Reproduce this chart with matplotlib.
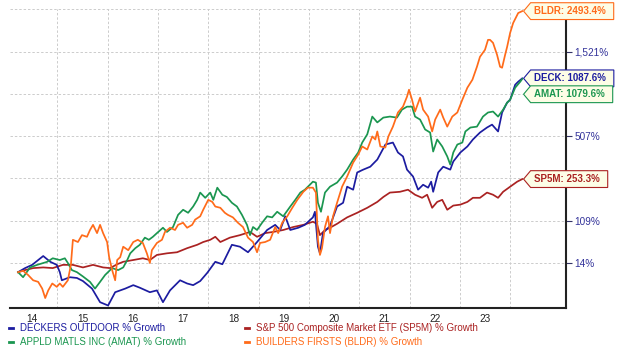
import numpy as np
import matplotlib.pyplot as plt
from matplotlib.path import Path
from matplotlib.lines import Line2D
from matplotlib.ticker import FixedLocator, FixedFormatter, NullFormatter

plt.rcParams['font.family'] = ['Liberation Sans', 'DejaVu Sans']

# ---- data: (decimal year, % growth) ----
deck = [(2014.22, 0), (2014.36, 6), (2014.50, 11), (2014.72, 26), (2014.86, 16), (2014.99, 11),
        (2015.05, 0), (2015.09, -11), (2015.25, -7), (2015.39, -8), (2015.51, -12), (2015.69, -21),
        (2015.85, -35), (2016.01, -38), (2016.15, -25), (2016.35, -21), (2016.51, -17), (2016.64, -20),
        (2016.84, -25), (2016.98, -23), (2017.10, -35), (2017.24, -23), (2017.44, -11), (2017.58, -15),
        (2017.70, -17), (2017.84, -12), (2017.98, -1), (2018.14, 16), (2018.28, 12), (2018.47, 48),
        (2018.63, 44), (2018.79, 33), (2018.97, 54), (2019.17, 83), (2019.33, 97), (2019.43, 83),
        (2019.53, 121), (2019.63, 83), (2019.79, 89), (2019.92, 97), (2020.08, 118), (2020.12, 134),
        (2020.18, 44), (2020.22, 31), (2020.28, 75), (2020.42, 94), (2020.56, 150), (2020.68, 162),
        (2020.76, 221), (2020.88, 209), (2020.96, 284), (2021.08, 298), (2021.22, 313), (2021.36, 352),
        (2021.52, 446), (2021.67, 460), (2021.77, 394), (2021.87, 370), (2021.95, 298), (2022.07, 265),
        (2022.17, 209), (2022.27, 229), (2022.37, 217), (2022.43, 242), (2022.47, 201), (2022.57, 284),
        (2022.67, 313), (2022.81, 298), (2022.87, 341), (2023.01, 394), (2023.15, 433), (2023.26, 482),
        (2023.40, 533), (2023.54, 571), (2023.64, 594), (2023.76, 541), (2023.84, 699), (2023.94, 796),
        (2024.00, 827), (2024.10, 1003), (2024.16, 1042), (2024.24, 1087.6)]

amat = [(2014.22, 0), (2014.32, -7), (2014.46, 7), (2014.60, 11), (2014.80, 16), (2014.91, 22),
        (2015.05, 19), (2015.15, 22), (2015.21, 14), (2015.29, 3), (2015.39, 0), (2015.51, -6),
        (2015.65, -13), (2015.75, -21), (2015.85, -13), (2015.95, -4), (2016.09, 6), (2016.21, 3),
        (2016.31, 7), (2016.39, 19), (2016.45, 31), (2016.55, 41), (2016.64, 48), (2016.74, 64),
        (2016.82, 59), (2016.90, 66), (2016.98, 75), (2017.10, 89), (2017.18, 78), (2017.30, 91),
        (2017.40, 125), (2017.50, 140), (2017.60, 131), (2017.70, 150), (2017.78, 172), (2017.84, 198),
        (2017.94, 179), (2018.04, 198), (2018.10, 172), (2018.18, 217), (2018.28, 190), (2018.37, 182),
        (2018.47, 162), (2018.57, 150), (2018.67, 125), (2018.77, 97), (2018.83, 70), (2018.89, 91),
        (2018.97, 83), (2019.07, 103), (2019.17, 121), (2019.27, 118), (2019.37, 134), (2019.49, 121),
        (2019.63, 150), (2019.73, 172), (2019.83, 198), (2019.92, 209), (2020.02, 229), (2020.08, 242),
        (2020.14, 238), (2020.18, 162), (2020.24, 134), (2020.32, 198), (2020.42, 221), (2020.56, 238),
        (2020.66, 265), (2020.76, 298), (2020.88, 352), (2020.98, 394), (2021.06, 460), (2021.16, 520),
        (2021.26, 662), (2021.36, 612), (2021.48, 653), (2021.61, 662), (2021.75, 653), (2021.85, 726),
        (2021.95, 755), (2022.05, 755), (2022.11, 662), (2022.21, 636), (2022.31, 556), (2022.41, 533),
        (2022.47, 400), (2022.55, 482), (2022.65, 433), (2022.75, 370), (2022.81, 324), (2022.87, 394),
        (2022.95, 446), (2023.05, 460), (2023.11, 541), (2023.21, 571), (2023.34, 578), (2023.46, 662),
        (2023.56, 699), (2023.66, 708), (2023.76, 662), (2023.86, 726), (2023.94, 796), (2024.00, 827),
        (2024.10, 966), (2024.20, 1042), (2024.24, 1079.6)]

bldr = [(2014.22, 0), (2014.32, 2), (2014.42, -4), (2014.52, -11), (2014.62, -13), (2014.70, -21),
        (2014.76, -31), (2014.82, -23), (2014.90, -15), (2014.99, -19), (2015.05, -15), (2015.11, -19),
        (2015.21, -11), (2015.27, 11), (2015.31, 59), (2015.41, 54), (2015.49, 70), (2015.59, 66),
        (2015.65, 83), (2015.71, 97), (2015.79, 75), (2015.85, 97), (2015.91, 75), (2015.99, 54),
        (2016.03, 24), (2016.09, 3), (2016.15, -11), (2016.19, 19), (2016.25, 24), (2016.31, 44),
        (2016.41, 37), (2016.51, 54), (2016.60, 59), (2016.70, 52), (2016.78, 31), (2016.84, 14),
        (2016.88, 37), (2016.98, 52), (2017.08, 59), (2017.14, 78), (2017.24, 89), (2017.34, 83),
        (2017.40, 97), (2017.50, 103), (2017.58, 89), (2017.68, 97), (2017.74, 112), (2017.84, 121),
        (2017.90, 140), (2018.00, 172), (2018.08, 165), (2018.14, 150), (2018.24, 146), (2018.33, 131),
        (2018.39, 125), (2018.49, 118), (2018.59, 103), (2018.69, 91), (2018.79, 64), (2018.89, 54),
        (2018.97, 33), (2019.03, 52), (2019.13, 54), (2019.23, 59), (2019.33, 91), (2019.39, 75),
        (2019.47, 103), (2019.57, 121), (2019.67, 146), (2019.77, 172), (2019.89, 201), (2019.98, 217),
        (2020.08, 217), (2020.14, 198), (2020.18, 59), (2020.22, 28), (2020.26, 41), (2020.32, 91),
        (2020.38, 121), (2020.42, 75), (2020.48, 121), (2020.56, 162), (2020.66, 221), (2020.76, 265),
        (2020.88, 335), (2020.98, 381), (2021.06, 433), (2021.16, 413), (2021.26, 505), (2021.32, 482),
        (2021.36, 541), (2021.42, 433), (2021.52, 426), (2021.58, 505), (2021.67, 578), (2021.77, 699),
        (2021.87, 755), (2021.95, 860), (2021.99, 941), (2022.05, 827), (2022.11, 708), (2022.21, 849),
        (2022.27, 726), (2022.37, 662), (2022.45, 541), (2022.51, 636), (2022.61, 726), (2022.67, 653),
        (2022.75, 578), (2022.85, 662), (2022.95, 699), (2023.05, 827), (2023.15, 966), (2023.25, 1069),
        (2023.34, 1259), (2023.40, 1425), (2023.50, 1555), (2023.56, 1758), (2023.60, 1758),
        (2023.66, 1694), (2023.74, 1461), (2023.80, 1259), (2023.84, 1244), (2023.90, 1461),
        (2023.94, 1613), (2024.00, 1915), (2024.06, 2160), (2024.16, 2437), (2024.24, 2493.4)]

sp5m = [(2014.22, 0), (2014.36, 3), (2014.52, 6), (2014.72, 7), (2014.91, 6), (2015.11, 11),
        (2015.31, 11), (2015.51, 7), (2015.71, 11), (2015.91, 7), (2016.05, 6), (2016.19, 12),
        (2016.31, 16), (2016.51, 19), (2016.70, 22), (2016.84, 19), (2016.98, 28), (2017.18, 31),
        (2017.38, 33), (2017.58, 41), (2017.78, 48), (2017.90, 54), (2018.04, 59), (2018.14, 66),
        (2018.24, 54), (2018.43, 64), (2018.63, 70), (2018.83, 78), (2018.97, 66), (2019.13, 75),
        (2019.29, 78), (2019.49, 83), (2019.69, 91), (2019.89, 97), (2020.08, 106), (2020.16, 100),
        (2020.22, 70), (2020.32, 83), (2020.42, 89), (2020.56, 100), (2020.76, 118), (2020.96, 131),
        (2021.16, 146), (2021.36, 165), (2021.48, 182), (2021.61, 198), (2021.81, 201), (2021.97, 209),
        (2022.11, 190), (2022.25, 179), (2022.35, 190), (2022.45, 146), (2022.55, 165), (2022.65, 172),
        (2022.75, 140), (2022.87, 153), (2023.01, 156), (2023.15, 165), (2023.26, 179), (2023.40, 179),
        (2023.54, 198), (2023.66, 190), (2023.76, 179), (2023.86, 201), (2024.00, 221), (2024.14, 242),
        (2024.24, 253.3)]

tick_vals = [14, 109, 507, 1521]
tick_labels = ['14%', '109%', '507%', '1,521%']
year_labels = ['14', '15', '16', '17', '18', '19', '20', '21', '22', '23']

# name, legend text, colour, data  (legend order)
series = [
    ('DECK', 'DECKERS OUTDOOR % Growth', '#1c1ca0', deck),
    ('AMAT', 'APPLD MATLS INC (AMAT) % Growth', '#1b9650', amat),
    ('SP5M', 'S&P 500 Composite Market ETF (SP5M) % Growth', '#aa2222', sp5m),
    ('BLDR', 'BUILDERS FIRSTS (BLDR) % Growth', '#ff6b1a', bldr),
]
draw_order = ['SP5M', 'DECK', 'AMAT', 'BLDR']
label_dy = {'DECK': 0, 'AMAT': -11, 'SP5M': 0, 'BLDR': 0}   # points, to keep tags apart

# ---- y scale: the site's axis puts the labelled values on gridlines 0, 1, 3, 5 ----
lx = np.log1p(np.array(tick_vals) / 100)
lo_step = lx[1] - lx[0]
hi_step = (lx[3] - lx[2]) / 2
anchor_x = np.concatenate([[lx[0] - 3 * lo_step], lx, [lx[-1] + 3 * hi_step]])
anchor_r = np.array([-3, 0, 1, 3, 5, 8], float)


def fwd(v):
    v = np.clip(np.asarray(v, float), -99, None)
    return np.interp(np.log1p(v / 100), anchor_x, anchor_r)


def inv(r):
    return np.expm1(np.interp(np.asarray(r, float), anchor_r, anchor_x)) * 100


def tag_box(x0, y0, width, height, mutation_size):
    """label tag with a pointed left side"""
    pad = 0.35 * mutation_size
    x0, y0 = x0 - pad, y0 - pad
    w, h = width + 1.9 * pad + 0.5 * mutation_size, height + 2 * pad
    tip = h * 0.42
    verts = [(x0 - tip, y0 + h / 2), (x0, y0), (x0 + w, y0), (x0 + w, y0 + h),
             (x0, y0 + h), (x0 - tip, y0 + h / 2)]
    codes = [Path.MOVETO] + [Path.LINETO] * 4 + [Path.CLOSEPOLY]
    return Path(verts, codes)


fig = plt.figure(figsize=(6.2, 3.56), dpi=100)
ax = fig.add_axes([10 / 620, 48 / 356, 556 / 620, 298.7 / 356])

ax.set_yscale('function', functions=(fwd, inv))

lookup = {s[0]: s for s in series}
for name in draw_order:
    _, text, color, pts = lookup[name]
    t = [p[0] for p in pts]
    v = [p[1] for p in pts]
    ax.plot(t, v, color=color, lw=1.25, solid_joinstyle='round', zorder=3)
    ax.annotate(f'{name}: {v[-1]:.1f}%', xy=(t[-1], v[-1]),
                xytext=(8.5, label_dy[name]), textcoords='offset points',
                ha='left', va='center', fontsize=7, fontweight='bold', color=color,
                bbox=dict(boxstyle=tag_box, fc='#fdfde6', ec=color, lw=0.8),
                zorder=6, annotation_clip=False)

ax.set_xlim(2014.06, 2025.11)
ax.set_ylim(inv(-1.064), inv(6.0))

# x: gridlines on year boundaries, labels mid-year
ax.xaxis.set_major_locator(FixedLocator(np.arange(2015, 2025)))
ax.xaxis.set_major_formatter(NullFormatter())
ax.xaxis.set_minor_locator(FixedLocator(np.arange(2014.5, 2024, 1.0)))
ax.xaxis.set_minor_formatter(FixedFormatter(year_labels))
ax.tick_params(axis='x', which='both', length=0)
ax.tick_params(axis='x', which='minor', labelsize=7.2, pad=4, labelcolor='#222222')

# y: labels on the right
ax.yaxis.tick_right()
ax.yaxis.set_major_locator(FixedLocator(tick_vals))
ax.yaxis.set_major_formatter(FixedFormatter(tick_labels))
ax.yaxis.set_minor_locator(FixedLocator(inv([2, 4, 6])))
ax.yaxis.set_minor_formatter(NullFormatter())
ax.tick_params(axis='y', which='major', length=4, width=0.8, color='#333366',
               labelsize=7.2, labelcolor='#33339a', pad=2)
ax.tick_params(axis='y', which='minor', length=0)

ax.grid(True, which='major', axis='x', color='#cccccc', lw=0.7, ls=(0, (2.5, 2)))
ax.grid(True, which='both', axis='y', color='#cccccc', lw=0.7, ls=(0, (2.5, 2)))
ax.set_axisbelow(True)

for side in ['left', 'top']:
    ax.spines[side].set_visible(False)
for side in ['right', 'bottom']:
    ax.spines[side].set_color('#222222')
    ax.spines[side].set_linewidth(1.5)

leg_handles = [Line2D([], [], color=c, lw=2) for _, _, c, _ in series]
leg_labels = [s[1] for s in series]
fig.legend(leg_handles, leg_labels, loc='upper left', bbox_to_anchor=(9 / 620, 33 / 356),
           ncol=2, frameon=False, fontsize=7, labelcolor=[s[2] for s in series],
           handlelength=0.45, handletextpad=0.7, columnspacing=6.0, labelspacing=0.45,
           borderpad=0, borderaxespad=0)

fig.savefig('out.png', dpi=100)
